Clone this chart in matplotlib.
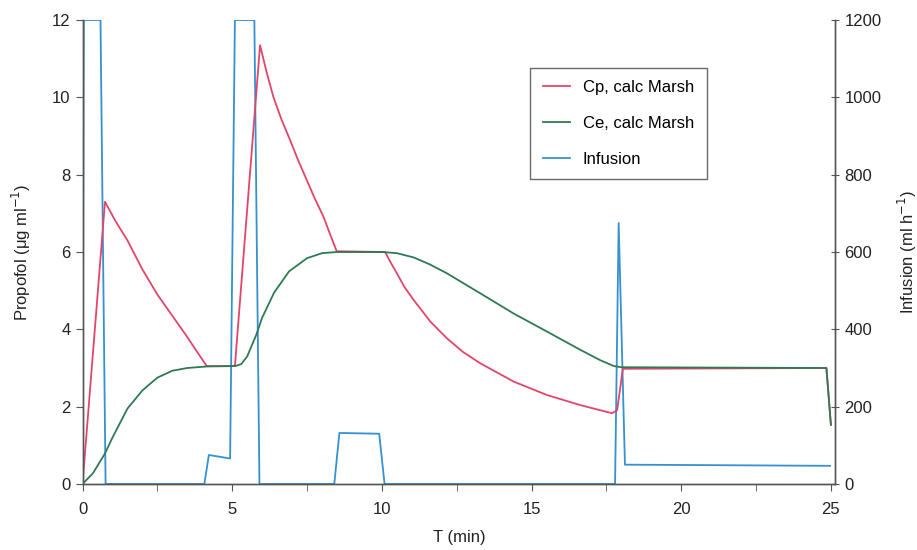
import matplotlib
matplotlib.use("Agg")
import matplotlib.pyplot as plt
from matplotlib.ticker import MultipleLocator

plt.rcParams['font.family'] = ['Liberation Sans', 'DejaVu Sans']

# Plasma concentration (Cp), Marsh model
cp_t = [0.0, 0.75, 1.1, 1.5, 2.0, 2.5, 3.0, 3.5, 3.8, 4.15, 5.09, 5.93, 6.15,
        6.38, 6.65, 6.93, 7.2, 7.49, 7.75, 8.05, 8.25, 8.49, 10.11, 10.3, 10.5,
        10.75, 11.06, 11.62, 12.17, 12.7, 13.29, 14.4, 15.52, 16.63, 17.69,
        17.86, 18.05, 24.85, 25.0]
cp_v = [0.0, 7.3, 6.8, 6.3, 5.55, 4.9, 4.35, 3.8, 3.45, 3.05, 3.05, 11.35, 10.65,
        10.0, 9.42, 8.9, 8.38, 7.86, 7.4, 6.91, 6.5, 6.02, 6.0, 5.72, 5.45,
        5.1, 4.76, 4.2, 3.77, 3.42, 3.12, 2.65, 2.3, 2.04, 1.83,
        1.91, 2.98, 3.0, 1.53]

# Effect-site concentration (Ce), Marsh model
ce_t = [0.0, 0.35, 0.75, 1.0, 1.5, 2.0, 2.5, 3.0, 3.5, 4.15, 5.1, 5.3, 5.5, 5.8,
        6.0, 6.4, 6.9, 7.5, 8.0, 8.5, 10.0, 10.5, 11.06, 11.6, 12.17, 13.29,
        14.4, 15.52, 16.63, 17.3, 17.75, 18.0, 24.85, 25.0]
ce_v = [0.0, 0.28, 0.79, 1.2, 1.95, 2.42, 2.75, 2.93, 3.0, 3.04, 3.05, 3.1, 3.3,
        3.85, 4.3, 4.95, 5.5, 5.84, 5.97, 6.0, 6.0, 5.97, 5.86, 5.68, 5.45, 4.93,
        4.41, 3.94, 3.47, 3.2, 3.05, 3.02, 3.0, 1.53]

# Infusion rate (ml/h)
inf_t = [0.0, 0.04, 0.60, 0.77, 4.07, 4.22, 4.93, 5.09, 5.74, 5.91, 8.41, 8.58,
         9.91, 10.09, 17.79, 17.91, 18.12, 24.97]
inf_v = [0, 1200, 1200, 0, 0, 75, 66, 1200, 1200, 0, 0, 132,
         130, 0, 0, 675, 50, 47]

red = '#e2456a'
green = '#2f7a52'
blue = '#3591cf'
spine_c = '#555555'
text_c = '#222222'

fig = plt.figure(figsize=(9.17, 5.5), dpi=100)
ax = fig.add_axes([0.090, 0.12, 0.821, 0.8436])
ax2 = ax.twinx()

l1, = ax.plot(cp_t, cp_v, color=red, lw=1.3, label='Cp, calc Marsh')
l2, = ax.plot(ce_t, ce_v, color=green, lw=1.3, label='Ce, calc Marsh')
l3, = ax2.plot(inf_t, inf_v, color=blue, lw=1.3, label='Infusion')

ax.set_xlim(0, 25.15)
ax.set_ylim(0, 12)
ax2.set_ylim(0, 1200)

ax.xaxis.set_major_locator(MultipleLocator(5))
ax.xaxis.set_minor_locator(MultipleLocator(2.5))
ax.yaxis.set_major_locator(MultipleLocator(2))
ax2.yaxis.set_major_locator(MultipleLocator(200))

for a in (ax, ax2):
    a.spines['top'].set_visible(False)
    for s in ('left', 'right', 'bottom'):
        a.spines[s].set_color(spine_c)
        a.spines[s].set_linewidth(1.0)

ax.tick_params(axis='y', which='major', labelsize=12, color=spine_c,
               length=5, direction='out', labelcolor=text_c)
ax.tick_params(axis='x', which='major', labelsize=12, color=spine_c,
               length=5, direction='out', labelcolor=text_c, pad=8)
ax.tick_params(axis='x', which='minor', length=5, color=spine_c, direction='out')
ax2.tick_params(axis='y', labelsize=12, color=spine_c, length=6,
                direction='inout', labelcolor=text_c)

ax.set_xlabel('T (min)', fontsize=12, color=text_c, labelpad=9)
ax.set_ylabel('Propofol (μg ml$^{-1}$)', fontsize=12, color=text_c, labelpad=14)
ax2.set_ylabel('Infusion (ml h$^{-1}$)', fontsize=12, color=text_c, labelpad=10)

leg = ax.legend(handles=[l1, l2, l3], loc='upper left',
                bbox_to_anchor=(0.595, 0.897), fontsize=12, frameon=True,
                fancybox=False, edgecolor='#444444', handlelength=1.6,
                borderpad=0.75, labelspacing=1.25, handletextpad=0.8,
                borderaxespad=0)
leg.get_frame().set_linewidth(1.0)
ax.set_zorder(ax2.get_zorder() + 1)
ax.patch.set_visible(False)

fig.savefig('out.png', dpi=100)
